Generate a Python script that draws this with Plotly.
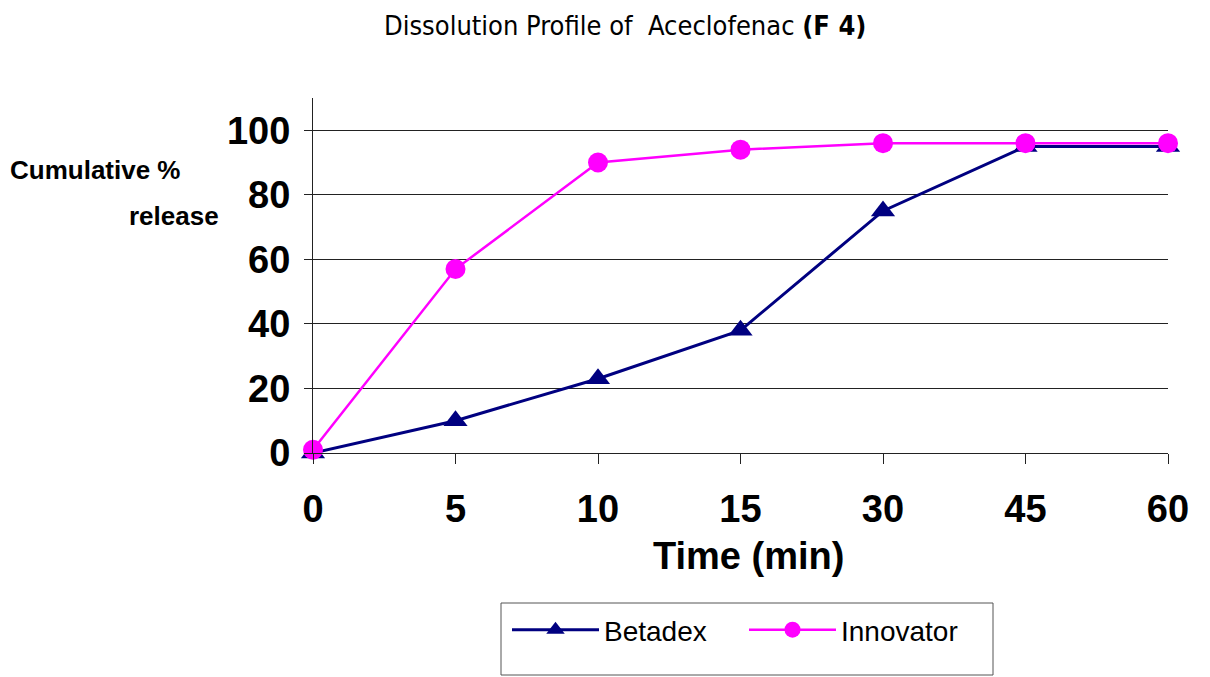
import plotly.graph_objects as go

# Sampling times (min) shown as evenly spaced categories
time_labels = ["0", "5", "10", "15", "30", "45", "60"]
positions = list(range(len(time_labels)))

# Cumulative % drug release
betadex = [0, 10, 23, 38, 75, 95, 95]
innovator = [1, 57, 90, 94, 96, 96, 96]

y_ticks = [0, 20, 40, 60, 80, 100]

NAVY = "#000080"
MAGENTA = "#FF00FF"

# plot area in pixels (used to place text in paper coordinates)
L, R, T, B = 313, 1168, 98, 453


def px(x):
    return (x - L) / (R - L)


def py(y):
    return (B - y) / (B - T)


fig = go.Figure()

fig.add_trace(go.Scatter(
    x=positions, y=betadex, name="Betadex", mode="lines+markers",
    line=dict(color=NAVY, width=3),
    marker=dict(symbol="triangle-up", size=21, color=NAVY),
    cliponaxis=False,
))
fig.add_trace(go.Scatter(
    x=positions, y=innovator, name="Innovator", mode="lines+markers",
    line=dict(color=MAGENTA, width=2.5),
    marker=dict(symbol="circle", size=20, color=MAGENTA),
    cliponaxis=False,
))

bold_font = dict(family="Arial, Liberation Sans, sans-serif", color="#000")

fig.update_layout(
    width=1210, height=677,
    margin=dict(l=L, r=1210 - R, t=T, b=677 - B),
    paper_bgcolor="white", plot_bgcolor="white",
    showlegend=True,
    xaxis=dict(
        range=[0, 6], tickmode="array", tickvals=positions,
        ticktext=[f"<b>{t}</b>" for t in time_labels],
        tickfont=dict(size=38, **bold_font),
        showgrid=False, zeroline=False,
        showline=True, linecolor="#222", linewidth=1,
        ticks="outside", ticklen=10, tickcolor="#222", tickwidth=1,
        ticklabelstandoff=12,
    ),
    yaxis=dict(
        range=[0, 110], tickmode="array", tickvals=y_ticks,
        ticktext=[f"<b>{v}</b>" for v in y_ticks],
        tickfont=dict(size=38, **bold_font),
        showgrid=True, gridcolor="#222", gridwidth=1,
        zeroline=False,
        showline=True, linecolor="#222", linewidth=1,
        ticks="outside", ticklen=8, tickcolor="#222", tickwidth=1,
        ticklabelstandoff=6,
    ),
    legend=dict(
        orientation="h", x=px(507), xanchor="left", y=py(605), yanchor="top",
        borderwidth=0, bgcolor="rgba(0,0,0,0)",
        font=dict(family="Arial, Liberation Sans, sans-serif", size=28, color="#000"),
        itemwidth=87, entrywidth=135, tracegroupgap=0,
    ),
    shapes=[
        # legend frame
        dict(type="rect", xref="paper", yref="paper",
             x0=px(501), x1=px(993), y0=py(603), y1=py(675),
             line=dict(color="#555", width=1), fillcolor="rgba(0,0,0,0)", layer="below"),
    ],
    annotations=[
        dict(text="Dissolution Profile of  Aceclofenac <b>(F 4)</b>",
             xref="paper", yref="paper", x=px(625), y=py(25),
             xanchor="center", yanchor="middle", showarrow=False,
             font=dict(family="DejaVu Sans Condensed, DejaVu Sans, sans-serif",
                       size=27, color="#000")),
        dict(text="<b>Time (min)</b>",
             xref="paper", yref="paper", x=px(748), y=py(556),
             xanchor="center", yanchor="middle", showarrow=False,
             font=dict(size=38, **bold_font)),
        dict(text="<b>Cumulative %</b>",
             xref="paper", yref="paper", x=px(183), y=py(170),
             xanchor="right", yanchor="middle", showarrow=False,
             font=dict(size=26, **bold_font)),
        dict(text="<b>release</b>",
             xref="paper", yref="paper", x=px(221), y=py(216),
             xanchor="right", yanchor="middle", showarrow=False,
             font=dict(size=26, **bold_font)),
    ],
)

fig.write_html("out.html")
